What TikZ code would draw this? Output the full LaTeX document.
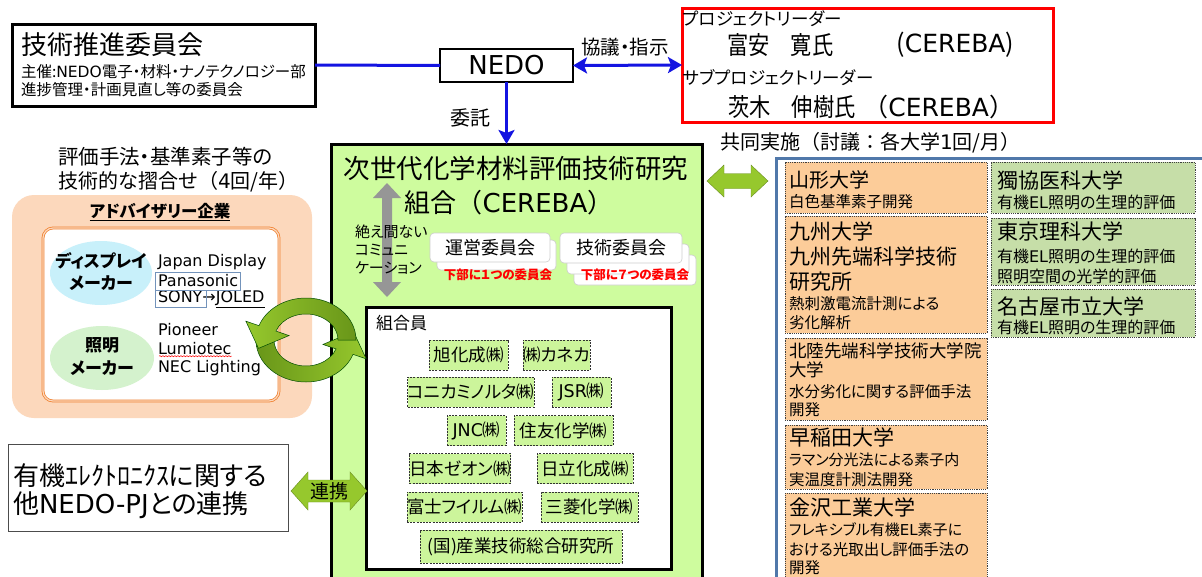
\documentclass[tikz,border=0pt]{standalone}
\usepackage{fontspec}
\usepackage{graphicx}
\setmainfont{Noto Sans CJK JP}[RawFeature=+palt]
\newfontfamily\np{Noto Sans CJK JP}
\newfontfamily\lt{DejaVu Sans}
\usetikzlibrary{arrows.meta,fit,calc,shapes.geometric,decorations.pathmorphing}
\newcommand\fsz[1]{\fontsize{#1}{#1}\selectfont}
\definecolor{cgreen}{RGB}{206,252,158}
\definecolor{mgreen}{RGB}{204,245,155}
\definecolor{uorange}{RGB}{252,204,153}
\definecolor{ugreen}{RGB}{198,222,168}
\definecolor{orgbg}{RGB}{252,216,188}
\definecolor{orgline}{RGB}{240,130,50}
\definecolor{stblue}{RGB}{80,120,170}
\definecolor{nedoblue}{RGB}{20,20,225}
\definecolor{agreen}{RGB}{150,200,45}
\definecolor{dgreen}{RGB}{105,150,25}
\definecolor{cyanl}{RGB}{200,240,250}
\definecolor{greenl}{RGB}{212,242,205}
\definecolor{grayarrow}{RGB}{150,150,150}
\begin{document}
\begin{tikzpicture}[x=1pt,y=-1pt,
  every node/.style={inner sep=0pt,outer sep=0pt},
  lbl/.style={anchor=west},
  bluecon/.style={draw=nedoblue,line width=3pt},
  mem/.style={draw=black!80,fill=mgreen,dash pattern=on 2pt off 1.2pt,line width=0.9pt,font=\fsz{17.5},minimum height=30pt},
  ubox/.style={draw=black!75,dash pattern=on 1.2pt off 1pt,line width=0.9pt},
  cbox/.style={draw=black!20,fill=white,rounded corners=4pt,line width=0.6pt},
  garrow/.style={fill=agreen,draw=agreen!70!black,line width=0.4pt},
]
\useasboundingbox (0,0) rectangle (1202,576);
\fill[white] (0,0) rectangle (1202,576);

% ---- technical committee
\node[fit={(12,24) (315,106)},draw,line width=3pt] (tech) {};
\node[lbl,font=\fsz{26}] (techT) at (21,45) {技術推進委員会};
\node[lbl,font=\fsz{15.5}] (techS1) at (21,72) {主催:{\lt NEDO}電子・材料・ナノテクノロジー部};
\node[lbl,font=\fsz{15.5}] (techS2) at (21,90) {進捗管理・計画見直し等の委員会};

% ---- NEDO
\node[fit={(440,49) (573,82)},draw,line width=2.2pt] (nedo) {};
\node[font=\lt\fsz{26}] (nedoT) at (nedo.center) {NEDO};

% ---- project leaders
\node[fit={(682,8) (1053,122)},draw=red,line width=3pt] (pl) {};
\node[lbl,font=\fsz{17.5}] (pl1) at (683,19) {プロジェクトリーダー};
\node[lbl] (pl2) at (727,45) {\scalebox{0.85}[1]{\fsz{25}富安　寛氏}};
\node[anchor=east,font=\fsz{25}] (pl2b) at (1014,45) {({\lt CEREBA})};
\node[lbl,font=\fsz{17.5}] (pl3) at (683,78) {サブプロジェクトリーダー};
\node[lbl] (pl4) at (728,107) {\scalebox{0.85}[1]{\fsz{25}茨木　伸樹氏}};
\node[anchor=east,font=\np\fsz{25}] (pl4b) at (1014,107) {（{\lt CEREBA}）};

% ---- blue connectors
\draw[bluecon] (tech.east) -- (nedo.west);
\draw[bluecon,{Stealth[length=14pt,width=16pt,inset=3pt]}-{Stealth[length=14pt,width=16pt,inset=3pt]}] (nedo.east) -- (pl.west);
\node[font=\fsz{19.5}] (kyogi) at (625,47) {協議・指示};

% ---- CEREBA box
\node[fit={(331,144) (702,600)},draw,fill=cgreen,line width=3pt] (cereba) {};
\draw[bluecon,-{Stealth[length=14pt,width=16pt,inset=3pt]}] (nedo.south) -- (nedo.south |- cereba.north);
\node[font=\fsz{20}] (itaku) at (470,118) {委託};
\node[font=\fsz{26.5}] (cT1) at (516,168) {次世代化学材料評価技術研究};
\node[font=\np\fsz{26}] (cT2) at (509,203) {組合（{\lt CEREBA}）};

% gray vertical double arrow
\fill[grayarrow] (387,183) -- (401,198) -- (392,198) -- (392,282) -- (401,282) -- (387,297)
  -- (373,282) -- (382,282) -- (382,198) -- (373,198) -- cycle;
\node[lbl,font=\fsz{15}] (comm1) at (355,232) {絶え間ない};
\node[lbl,font=\fsz{15}] (comm2) at (355,250) {コミュニ};
\node[lbl,font=\fsz{15}] (comm3) at (355,268) {ケーション};

% committee boxes
\node[fit={(437,240) (556,270)},cbox] (unei2) {};
\node[fit={(430,233) (550,262)},cbox] (unei) {};
\node[font=\fsz{18}] (uneiT) at (unei.center) {運営委員会};
\node[fit={(574,255) (696,285)},cbox] (giju3) {};
\node[fit={(567,244) (689,274)},cbox] (giju2) {};
\node[fit={(560,233) (682,263)},cbox] (giju) {};
\node[font=\fsz{18}] (gijuT) at (giju.center) {技術委員会};
\node[font=\bfseries\fsz{12.5},text=red] (uneiR) at (498,275) {下部に１つの委員会};
\node[font=\bfseries\fsz{12.5},text=red] (gijuR) at (635,275) {下部に７つの委員会};

% members box
\node[fit={(366,307) (671,569)},draw,fill=white,line width=3pt] (kumiai) {};
\node[lbl,font=\fsz{17}] (kumiaiT) at (376,323) {組合員};
\node[mem,minimum width=79pt] (m1) at (468.5,355) {旭化成㈱};
\node[mem,minimum width=67pt] (m2) at (556.5,355) {㈱カネカ};
\node[mem,minimum width=112pt] (m3) at (471,392) {コニカミノルタ㈱};
\node[mem,minimum width=59pt] (m4) at (581.5,392) {{\lt JSR}㈱};
\node[mem,minimum width=59pt] (m5) at (476.5,430.5) {{\lt JNC}㈱};
\node[mem,minimum width=99pt] (m6) at (563.5,430.5) {住友化学㈱};
\node[mem,minimum width=94pt] (m7) at (460,468.5) {日本ゼオン㈱};
\node[mem,minimum width=96pt] (m8) at (585,468.5) {日立化成㈱};
\node[mem,minimum width=115pt] (m9) at (464.5,507) {富士フイルム㈱};
\node[mem,minimum width=97pt] (m10) at (589.5,507) {三菱化学㈱};
\node[mem,minimum width=202pt,minimum height=33pt] (m11) at (521,546.5) {(国)産業技術総合研究所};

% ---- advisory companies
\node[lbl,font=\fsz{20.5}] (adv1) at (58,157) {評価手法・基準素子等の};
\node[lbl,font=\np\fsz{20}] (adv2) at (58,182) {技術的な摺合せ（{\lt 4}回/年）};
\node[fit={(12,195) (312,418)},fill=orgbg,rounded corners=22pt] (adv) {};
\node[font=\bfseries\fsz{16.5}] (advT) at (160,212) {\underline{アドバイザリー企業}};
\node[fit={(43,228) (279,401)},draw=orgline,line width=0.8pt,double=orgbg,double distance=1.2pt,fill=white,rounded corners=10pt] (advIn) {};
\node[ellipse,fill=cyanl,minimum width=102pt,minimum height=64pt] (disp) at (101,273) {};
\node[font=\bfseries\fsz{17}] (dispT1) at (101,261) {ディスプレイ};
\node[font=\bfseries\fsz{17}] (dispT2) at (101,283) {メーカー};
\node[ellipse,fill=greenl,minimum width=104pt,minimum height=64pt] (light) at (102,358) {};
\node[font=\bfseries\fsz{17}] (lightT1) at (102,345) {照明};
\node[font=\bfseries\fsz{17}] (lightT2) at (102,368) {メーカー};
\node[lbl,font=\lt\fsz{16}] (c1) at (158,262) {Japan Display};
\node[lbl,font=\lt\fsz{16}] (c2) at (158,281) {Panasonic};
\node[lbl,font=\lt\fsz{16}] (c3) at (158,299) {SONY→\underline{JOLED}};
\node[lbl,font=\lt\fsz{16}] (c4) at (158,330) {Pioneer};
\node[lbl,font=\lt\fsz{16}] (c5) at (158,349) {Lumiotec};
\node[lbl,font=\lt\fsz{16}] (c6) at (158,368) {NEC Lighting};
\draw[stblue!80,line width=0.7pt] (155,272) rectangle (240,290);
\draw[stblue!80,line width=0.7pt] (155,290) rectangle (206,307);
\draw[red,line width=0.5pt,decorate,decoration={snake,amplitude=0.6pt,segment length=3pt}]
  ($(c5.south west)+(1,1)$) -- ($(c5.south east)+(0,1)$);

% ---- cycle arrows
\coordinate (cc) at (306,340);
\shade[left color=dgreen,right color=agreen,draw=black!70!green,line width=0.5pt]
  ($(cc)+(180:50 and 42)$) arc[start angle=180,end angle=20,x radius=50,y radius=42]
  -- ($(cc)+(20:64 and 55)$) -- ($(cc)+(20:41 and 34)+(9,-20)$) -- ($(cc)+(20:18 and 13)$)
  -- ($(cc)+(20:32 and 26)$) arc[start angle=20,end angle=180,x radius=32,y radius=26] -- cycle;
\shade[left color=agreen,right color=dgreen,draw=black!70!green,line width=0.5pt]
  ($(cc)+(0:50 and 42)$) arc[start angle=0,end angle=-160,x radius=50,y radius=42]
  -- ($(cc)+(-160:64 and 55)$) -- ($(cc)+(-160:41 and 34)+(-9,20)$) -- ($(cc)+(-160:18 and 13)$)
  -- ($(cc)+(-160:32 and 26)$) arc[start angle=-160,end angle=0,x radius=32,y radius=26] -- cycle;

% ---- other NEDO projects
\node[fit={(8,444) (288,531)},draw=black!70,line width=1pt] (pj) {};
\node[lbl,font=\fsz{26}] (pj1) at (13,476) {有機ｴﾚｸﾄﾛﾆｸｽに関する};
\node[lbl,font=\fsz{26}] (pj2) at (13,505) {他{\lt NEDO-PJ}との連携};
\path[garrow] (291,491) -- (308,472) -- (308,480) -- (350,480) -- (350,472) -- (367,491)
  -- (350,510) -- (350,502) -- (308,502) -- (308,510) -- cycle;
\node[font=\fsz{19}] (renkei) at (329,491) {連携};

% ---- universities
\node[lbl,font=\np\fsz{20}] (kyodo) at (720,143) {共同実施（討議：各大学{\lt 1}回/月）};
\node[fit={(776,158) (1215,600)},draw=stblue,line width=3pt,fill=white] (univ) {};
\path[garrow] (707,181) -- (724,165) -- (724,173.5) -- (751,173.5) -- (751,165) -- (768,181)
  -- (751,197) -- (751,188.5) -- (724,188.5) -- (724,197) -- cycle;

\node[fit={(785,162) (987,213)},ubox,fill=uorange] (u1) {};
\node[fit={(785,216) (987,333)},ubox,fill=uorange] (u2) {};
\node[fit={(785,338) (987,420)},ubox,fill=uorange] (u3) {};
\node[fit={(785,425) (987,489)},ubox,fill=uorange] (u4) {};
\node[fit={(785,493) (987,600)},ubox,fill=uorange] (u5) {};
\node[fit={(991,162) (1195,213)},ubox,fill=ugreen] (g1) {};
\node[fit={(991,218) (1195,285)},ubox,fill=ugreen] (g2) {};
\node[fit={(991,289) (1195,337)},ubox,fill=ugreen] (g3) {};

\node[lbl,font=\fsz{20}] (u1a) at (789,180) {山形大学};
\node[lbl,font=\fsz{15.5}] (u1b) at (789,202) {白色基準素子開発};
\node[lbl,font=\fsz{21}] (u2a) at (789,231) {九州大学};
\node[lbl,font=\fsz{21}] (u2b) at (789,257) {九州先端科学技術};
\node[lbl,font=\fsz{21}] (u2c) at (789,282) {研究所};
\node[lbl,font=\fsz{15.5}] (u2d) at (789,304) {熱刺激電流計測による};
\node[lbl,font=\fsz{15.5}] (u2e) at (789,323) {劣化解析};
\node[lbl,font=\fsz{17.5}] (u3a) at (789,351) {北陸先端科学技術大学院};
\node[lbl,font=\fsz{17.5}] (u3b) at (789,370) {大学};
\node[lbl,font=\fsz{15.5}] (u3c) at (789,392) {水分劣化に関する評価手法};
\node[lbl,font=\fsz{15.5}] (u3d) at (789,410) {開発};
\node[lbl,font=\fsz{21}] (u4a) at (789,437) {早稲田大学};
\node[lbl,font=\fsz{15}] (u4b) at (789,460) {ラマン分光法による素子内};
\node[lbl,font=\fsz{15.5}] (u4c) at (789,480) {実温度計測法開発};
\node[lbl,font=\fsz{21}] (u5a) at (789,507) {金沢工業大学};
\node[lbl,font=\fsz{15}] (u5b) at (789,530) {フレキシブル有機{\lt EL}素子に};
\node[lbl,font=\fsz{15.5}] (u5c) at (789,550) {おける光取出し評価手法の};
\node[lbl,font=\fsz{15.5}] (u5d) at (789,568) {開発};
\node[lbl,font=\fsz{21}] (g1a) at (997,180) {獨協医科大学};
\node[lbl,font=\fsz{16}] (g1b) at (997,202) {有機{\lt EL}照明の生理的評価};
\node[lbl,font=\fsz{21}] (g2a) at (997,231) {東京理科大学};
\node[lbl,font=\fsz{16}] (g2b) at (997,256) {有機{\lt EL}照明の生理的評価};
\node[lbl,font=\fsz{16}] (g2c) at (997,276) {照明空間の光学的評価};
\node[lbl,font=\fsz{21}] (g3a) at (997,306) {名古屋市立大学};
\node[lbl,font=\fsz{16}] (g3b) at (997,327) {有機{\lt EL}照明の生理的評価};
\end{tikzpicture}
\end{document}
